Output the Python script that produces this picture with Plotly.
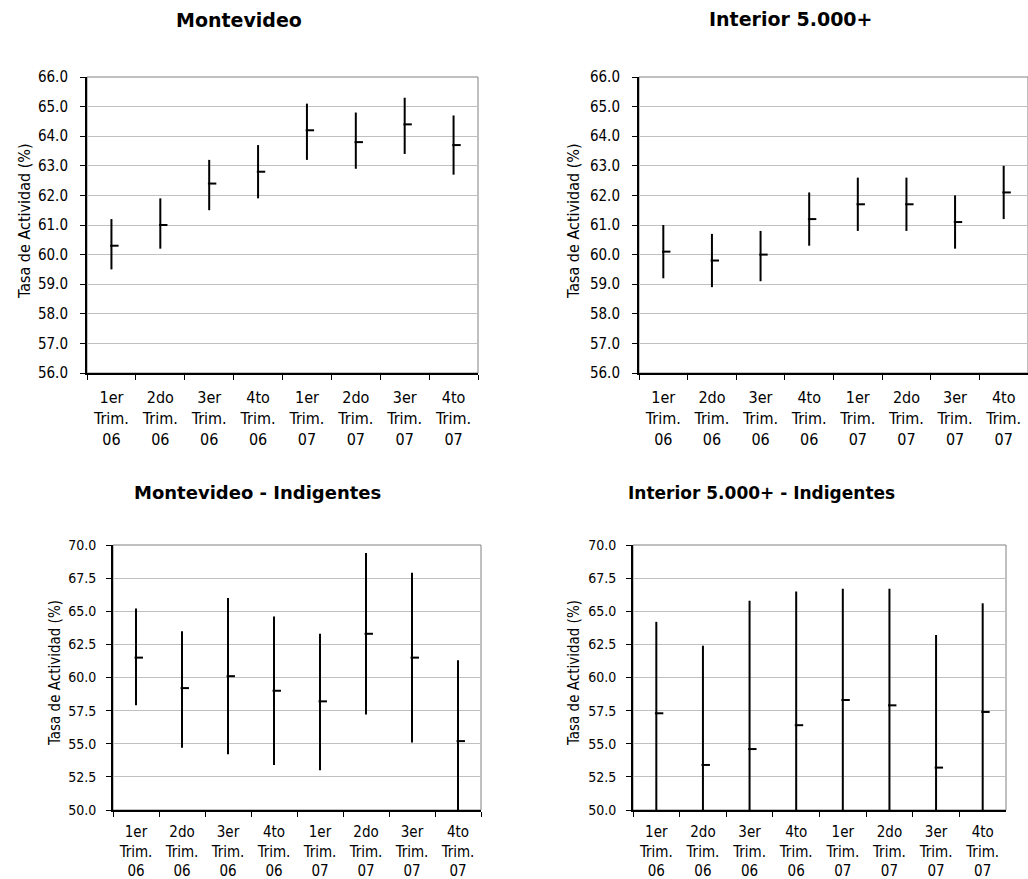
import plotly.graph_objects as go

# ---------------- data ----------------
quarters = ["1er<br>Trim.<br>06", "2do<br>Trim.<br>06", "3er<br>Trim.<br>06", "4to<br>Trim.<br>06",
            "1er<br>Trim.<br>07", "2do<br>Trim.<br>07", "3er<br>Trim.<br>07", "4to<br>Trim.<br>07"]

mvd_est = [60.3, 61.0, 62.4, 62.8, 64.2, 63.8, 64.4, 63.7]
mvd_low = [59.5, 60.2, 61.5, 61.9, 63.2, 62.9, 63.4, 62.7]
mvd_high = [61.2, 61.9, 63.2, 63.7, 65.1, 64.8, 65.3, 64.7]

int_est = [60.1, 59.8, 60.0, 61.2, 61.7, 61.7, 61.1, 62.1]
int_low = [59.2, 58.9, 59.1, 60.3, 60.8, 60.8, 60.2, 61.2]
int_high = [61.0, 60.7, 60.8, 62.1, 62.6, 62.6, 62.0, 63.0]

mvdi_est = [61.5, 59.2, 60.1, 59.0, 58.2, 63.3, 61.5, 55.2]
mvdi_low = [57.9, 54.7, 54.2, 53.4, 53.0, 57.2, 55.1, 49.2]
mvdi_high = [65.2, 63.5, 66.0, 64.6, 63.3, 69.4, 67.9, 61.3]

inti_est = [57.3, 53.4, 54.6, 56.4, 58.3, 57.9, 53.2, 57.4]
inti_low = [49.6, 44.4, 43.4, 46.3, 49.8, 49.1, 43.2, 49.2]
inti_high = [64.2, 62.4, 65.8, 66.5, 66.7, 66.7, 63.2, 65.6]

titles = ["Montevideo", "Interior 5.000+", "Montevideo - Indigentes", "Interior 5.000+ - Indigentes"]
ytitle = "Tasa de Actividad (%)"

# ---------------- style ----------------
NARROW = "Liberation Sans Narrow, DejaVu Sans Condensed, Arial Narrow, sans-serif"
TITLEF = "DejaVu Sans, Verdana, sans-serif"
W, H = 1028, 879
SHIFT = 0.06  # category fraction the estimate tick is pushed right

panels = [
    dict(est=mvd_est, low=mvd_low, high=mvd_high, xd=(87, 478), yd=(77, 373), yr=(56, 66), dt=1,
         xfs=16, yfs=15, ystand=9, xstand=9),
    dict(est=int_est, low=int_low, high=int_high, xd=(639, 1028), yd=(77, 373), yr=(56, 66), dt=1,
         xfs=16, yfs=15, ystand=9, xstand=9),
    dict(est=mvdi_est, low=mvdi_low, high=mvdi_high, xd=(113, 481), yd=(545, 810), yr=(50, 70), dt=2.5,
         xfs=15, yfs=14, ystand=7, xstand=7),
    dict(est=inti_est, low=inti_low, high=inti_high, xd=(633, 1006), yd=(545, 810), yr=(50, 70), dt=2.5,
         xfs=15, yfs=14, ystand=7, xstand=7),
]

fig = go.Figure()
layout = dict(width=W, height=H, autosize=False,
              margin=dict(l=0, r=0, t=0, b=0, pad=0, autoexpand=False),
              paper_bgcolor="white", plot_bgcolor="white", showlegend=False)
shapes = []
annotations = []

for i, p in enumerate(panels):
    n = i + 1
    sx = "" if n == 1 else str(n)
    ox = str(n + 4)
    xdom = [p["xd"][0] / W, min(p["xd"][1] / W, 1.0)]
    ydom = [(H - p["yd"][1]) / H, (H - p["yd"][0]) / H]

    # vertical interval lines
    fig.add_trace(go.Scatter(
        x=quarters, y=p["est"], mode="markers",
        marker=dict(size=1, color="rgba(0,0,0,0)"),
        error_y=dict(type="data", symmetric=False,
                     array=[h - e for h, e in zip(p["high"], p["est"])],
                     arrayminus=[e - l for e, l in zip(p["est"], p["low"])],
                     width=0, thickness=2, color="black"),
        xaxis="x" + sx, yaxis="y" + sx, hoverinfo="skip"))
    # estimate tick (right side)
    fig.add_trace(go.Scatter(
        x=quarters, y=p["est"], mode="markers",
        marker=dict(symbol="line-ew", size=6, line=dict(width=2, color="black")),
        xaxis="x" + ox, yaxis="y" + sx, hoverinfo="skip"))

    layout["xaxis" + sx] = dict(
        domain=xdom, anchor="y" + sx, type="category", categoryorder="array", categoryarray=quarters,
        range=[-0.5, 7.5], tickson="boundaries", ticks="outside", ticklen=5, tickcolor="black",
        showline=True, linecolor="black", linewidth=2, showgrid=False, zeroline=False,
        tickfont=dict(family=NARROW, size=p["xfs"], color="black"), ticklabelstandoff=p["xstand"],
        automargin=False, fixedrange=True)
    layout["xaxis" + ox] = dict(
        domain=xdom, overlaying="x" + sx, anchor="y" + sx, type="category", categoryorder="array",
        categoryarray=quarters, range=[-0.5 - SHIFT, 7.5 - SHIFT], visible=False,
        automargin=False, fixedrange=True)
    layout["yaxis" + sx] = dict(
        domain=ydom, anchor="x" + sx, range=list(p["yr"]), dtick=p["dt"], tick0=p["yr"][0],
        tickformat=".1f", ticks="outside", ticklen=5, tickcolor="black",
        showline=True, linecolor="black", linewidth=2, showgrid=True, gridcolor="#c0c0c0",
        gridwidth=1, zeroline=False,
        tickfont=dict(family=NARROW, size=p["yfs"], color="black"),
        ticklabelstandoff=p["ystand"], automargin=False, fixedrange=True)
    shapes.append(dict(type="rect", xref="x" + sx + " domain", yref="y" + sx + " domain",
                       x0=0, x1=1, y0=0, y1=1, line=dict(color="#808080", width=1), layer="below"))

# panel titles
title_pos = [(239, 20, 19), (791, 19, 19), (257, 492, 18), (761, 493, 17)]
for t, (x, y, s) in zip(titles, title_pos):
    annotations.append(dict(text="<b>" + t + "</b>", x=x / W, y=(H - y) / H, xref="paper", yref="paper",
                            xanchor="center", yanchor="middle", showarrow=False,
                            font=dict(family=TITLEF, size=s, color="black")))

# y-axis titles
yt_pos = [(24, 221, 16), (573, 221, 16), (55, 673, 15), (574, 673, 15)]
for (x, y, s) in yt_pos:
    annotations.append(dict(text=ytitle, x=x / W, y=(H - y) / H, xref="paper", yref="paper",
                            xanchor="center", yanchor="middle", textangle=-90, showarrow=False,
                            font=dict(family=NARROW, size=s, color="black")))

layout["shapes"] = shapes
layout["annotations"] = annotations
fig.update_layout(**layout)
fig.write_html("out.html", config={"displayModeBar": False},
               post_script="document.body.style.margin='0px';document.body.style.overflow='hidden';")
